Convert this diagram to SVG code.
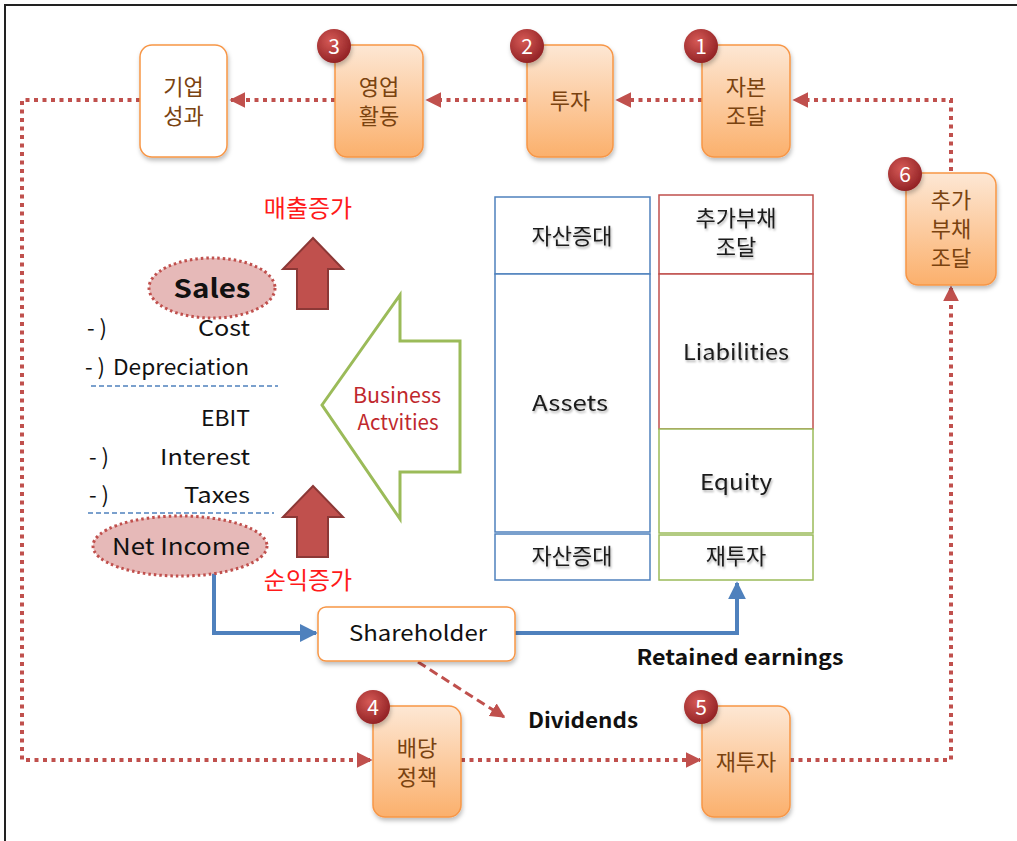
<svg xmlns="http://www.w3.org/2000/svg" width="1017" height="841" viewBox="0 0 1017 841">
  <defs>
    <linearGradient id="boxFill" x1="0" y1="0" x2="0" y2="1">
      <stop offset="0" stop-color="#fde7d4"/>
      <stop offset="1" stop-color="#fbb06c"/>
    </linearGradient>
    <radialGradient id="badgeFill" cx="0.4" cy="0.35" r="0.7">
      <stop offset="0" stop-color="#d65a56"/>
      <stop offset="1" stop-color="#8e1f22"/>
    </radialGradient>
    <filter id="shadow" x="-20%" y="-20%" width="140%" height="140%">
      <feDropShadow dx="1" dy="3" stdDeviation="2" flood-color="#000" flood-opacity="0.25"/>
    </filter>
    <filter id="textShadow" x="-10%" y="-20%" width="120%" height="150%">
      <feDropShadow dx="1" dy="2" stdDeviation="1.2" flood-color="#000" flood-opacity="0.3"/>
    </filter>
    <marker id="dotHead" viewBox="0 0 10 10" refX="9" refY="5" markerWidth="4" markerHeight="4" orient="auto" markerUnits="strokeWidth">
      <path d="M0,0 L10,5 L0,10 Z" fill="#c0504d"/>
    </marker>
    <marker id="blueHead" viewBox="0 0 10 10" refX="9" refY="5" markerWidth="4.5" markerHeight="4.5" orient="auto" markerUnits="strokeWidth">
      <path d="M0,0 L10,5 L0,10 Z" fill="#4f81bd"/>
    </marker>
    <marker id="dashHead" viewBox="0 0 10 10" refX="9" refY="5" markerWidth="5" markerHeight="5" orient="auto" markerUnits="strokeWidth">
      <path d="M0,0 L10,5 L0,10 Z" fill="#c0504d"/>
    </marker>
  </defs>
  <style>
    text { font-family: "Noto Sans CJK KR", "Noto Sans", sans-serif; }
    .step { fill: url(#boxFill); stroke: #f79646; stroke-width: 1.5; filter: url(#shadow); }
    .plain { fill: #ffffff; stroke: #f79646; stroke-width: 1.5; filter: url(#shadow); }
    .stepText { font-size: 22px; fill: #7a4310; text-anchor: middle; }
    .badge { fill: url(#badgeFill); filter: url(#shadow); }
    .badgeText { font-size: 21px; fill: #ffffff; text-anchor: middle; }
    .flow { fill: none; stroke: #c0504d; stroke-width: 4; stroke-dasharray: 4 4.5; }
    .bsText { font-size: 22px; fill: #1a1a1a; text-anchor: middle; filter: url(#textShadow); }
    .isText { font-size: 22px; fill: #111; }
    .red { font-size: 24px; fill: #ff1a1a; text-anchor: middle; }
    .upArrow { fill: #c0504d; stroke: #8c3836; stroke-width: 2; }
    .ellipse { fill: #e6b9b8; stroke: #c0504d; stroke-width: 3; stroke-dasharray: 2.5 3; }
    .rule { stroke: #4f81bd; stroke-width: 1.3; stroke-dasharray: 5 3; }
    .label { font-size: 21px; font-weight: bold; fill: #111; }
  </style>

  <!-- frame -->
  <path d="M5,841 L5,5 L1017,5" fill="none" stroke="#222" stroke-width="2"/>

  <!-- connectors -->
  <g id="connectors">
    <path class="flow" d="M951,171 L951,100 L794,100" marker-end="url(#dotHead)"/>
    <path class="flow" d="M702,100 L617,100" marker-end="url(#dotHead)"/>
    <path class="flow" d="M527,100 L427,100" marker-end="url(#dotHead)"/>
    <path class="flow" d="M335,100 L231,100" marker-end="url(#dotHead)"/>
    <path class="flow" d="M140,100 L22,100 L22,760 L371,760" marker-end="url(#dotHead)"/>
    <path class="flow" d="M461,760 L700,760" marker-end="url(#dotHead)"/>
    <path class="flow" d="M790,760 L951,760 L951,287" marker-end="url(#dotHead)"/>
    <path d="M214,565 L214,633 L316,633" fill="none" stroke="#4f81bd" stroke-width="4" marker-end="url(#blueHead)"/>
    <path d="M515,633 L737,633 L737,583" fill="none" stroke="#4f81bd" stroke-width="4" marker-end="url(#blueHead)"/>
    <path d="M418,662 L504,717" fill="none" stroke="#c0504d" stroke-width="3" stroke-dasharray="9 5" marker-end="url(#dashHead)"/>
  </g>

  <!-- step boxes -->
  <g id="node-performance">
    <rect class="plain" x="140" y="45" width="87" height="112" rx="12"/>
    <text class="stepText" x="183.5" y="95">기업</text>
    <text class="stepText" x="183.5" y="124">성과</text>
  </g>
  <g id="node-operations">
    <rect class="step" x="335" y="45" width="88" height="112" rx="12"/>
    <text class="stepText" x="379" y="95">영업</text>
    <text class="stepText" x="379" y="124">활동</text>
    <circle class="badge" cx="334" cy="46" r="17"/>
    <text class="badgeText" x="334" y="54">3</text>
  </g>
  <g id="node-investment">
    <rect class="step" x="527" y="45" width="86" height="112" rx="12"/>
    <text class="stepText" x="570" y="109">투자</text>
    <circle class="badge" cx="527" cy="46" r="17"/>
    <text class="badgeText" x="527" y="54">2</text>
  </g>
  <g id="node-financing">
    <rect class="step" x="702" y="45" width="88" height="112" rx="12"/>
    <text class="stepText" x="746" y="95">자본</text>
    <text class="stepText" x="746" y="124">조달</text>
    <circle class="badge" cx="701" cy="46" r="17"/>
    <text class="badgeText" x="701" y="54">1</text>
  </g>
  <g id="node-debt">
    <rect class="step" x="906" y="173" width="90" height="112" rx="12"/>
    <text class="stepText" x="951" y="208">추가</text>
    <text class="stepText" x="951" y="237">부채</text>
    <text class="stepText" x="951" y="266">조달</text>
    <circle class="badge" cx="905" cy="174" r="17"/>
    <text class="badgeText" x="905" y="182">6</text>
  </g>
  <g id="node-dividend-policy">
    <rect class="step" x="373" y="706" width="88" height="111" rx="12"/>
    <text class="stepText" x="417" y="756">배당</text>
    <text class="stepText" x="417" y="785">정책</text>
    <circle class="badge" cx="373" cy="707" r="17"/>
    <text class="badgeText" x="373" y="715">4</text>
  </g>
  <g id="node-reinvest">
    <rect class="step" x="702" y="706" width="88" height="111" rx="12"/>
    <text class="stepText" x="746" y="770">재투자</text>
    <circle class="badge" cx="701" cy="707" r="17"/>
    <text class="badgeText" x="701" y="715">5</text>
  </g>

  <!-- income statement -->
  <g id="node-sales">
    <ellipse class="ellipse" cx="212" cy="288" rx="63" ry="30"/>
    <text x="212" y="298" font-size="26" font-weight="bold" fill="#111" text-anchor="middle" textLength="77" lengthAdjust="spacingAndGlyphs">Sales</text>
  </g>
  <g id="income-lines">
    <text class="isText" x="87" y="336">- )</text>
    <text class="isText" x="250" y="336" text-anchor="end" textLength="52" lengthAdjust="spacingAndGlyphs">Cost</text>
    <text class="isText" x="85" y="375">- )</text>
    <text class="isText" x="249" y="375" text-anchor="end" textLength="136" lengthAdjust="spacingAndGlyphs">Depreciation</text>
    <line class="rule" x1="91" y1="386" x2="278" y2="386"/>
    <text class="isText" x="250" y="426" text-anchor="end" textLength="49" lengthAdjust="spacingAndGlyphs">EBIT</text>
    <text class="isText" x="89" y="465">- )</text>
    <text class="isText" x="250" y="465" text-anchor="end" textLength="90" lengthAdjust="spacingAndGlyphs">Interest</text>
    <text class="isText" x="89" y="503">- )</text>
    <text class="isText" x="250" y="503" text-anchor="end" textLength="66" lengthAdjust="spacingAndGlyphs">Taxes</text>
    <line class="rule" x1="88" y1="513" x2="274" y2="513"/>
  </g>
  <g id="node-net-income">
    <ellipse class="ellipse" cx="180" cy="546" rx="87" ry="30"/>
    <text x="181" y="555" font-size="23" fill="#111" text-anchor="middle" textLength="138" lengthAdjust="spacingAndGlyphs">Net Income</text>
  </g>

  <!-- growth arrows -->
  <g id="node-sales-up">
    <text class="red" x="308" y="217">매출증가</text>
    <path class="upArrow" d="M313,238 L343,269 L328,269 L328,309 L297,309 L297,269 L283,269 Z"/>
  </g>
  <g id="node-income-up">
    <path class="upArrow" d="M313,486 L343,517 L328,517 L328,557 L297,557 L297,517 L283,517 Z"/>
    <text class="red" x="308" y="589">순익증가</text>
  </g>

  <!-- business activities arrow -->
  <g id="node-business">
    <path d="M322,405 L400,295 L400,341 L460,341 L460,472 L400,472 L400,519 Z" fill="#ffffff" stroke="#9bbb59" stroke-width="3"/>
    <text x="397" y="403" font-size="21" fill="#c0282d" text-anchor="middle" textLength="88" lengthAdjust="spacingAndGlyphs">Business</text>
    <text x="398" y="430" font-size="21" fill="#c0282d" text-anchor="middle" textLength="81" lengthAdjust="spacingAndGlyphs">Actvities</text>
  </g>

  <!-- balance sheet -->
  <g id="node-assets">
    <rect x="495" y="197" width="155" height="77" fill="#fff" stroke="#4f81bd" stroke-width="1.5"/>
    <rect x="495" y="274" width="155" height="258" fill="#fff" stroke="#4f81bd" stroke-width="1.5"/>
    <rect x="495" y="534" width="155" height="46" fill="#fff" stroke="#4f81bd" stroke-width="1.5"/>
    <text class="bsText" x="572" y="244">자산증대</text>
    <text class="bsText" x="570" y="411" textLength="76" lengthAdjust="spacingAndGlyphs">Assets</text>
    <text class="bsText" x="572" y="564">자산증대</text>
  </g>
  <g id="node-liabilities">
    <rect x="659" y="195" width="154" height="79" fill="#fff" stroke="#c0504d" stroke-width="1.5"/>
    <rect x="659" y="274" width="154" height="155" fill="#fff" stroke="#c0504d" stroke-width="1.5"/>
    <text class="bsText" x="736" y="226">추가부채</text>
    <text class="bsText" x="736" y="255">조달</text>
    <text class="bsText" x="736" y="360" textLength="106" lengthAdjust="spacingAndGlyphs">Liabilities</text>
  </g>
  <g id="node-equity">
    <rect x="659" y="429" width="154" height="104" fill="#fff" stroke="#9bbb59" stroke-width="1.5"/>
    <rect x="659" y="535" width="154" height="45" fill="#fff" stroke="#9bbb59" stroke-width="1.5"/>
    <text class="bsText" x="736" y="490" textLength="72" lengthAdjust="spacingAndGlyphs">Equity</text>
    <text class="bsText" x="736" y="564">재투자</text>
  </g>

  <!-- shareholder and flows -->
  <g id="node-shareholder">
    <rect class="plain" x="318" y="607" width="197" height="54" rx="8"/>
    <text x="418" y="641" font-size="21" fill="#111" text-anchor="middle" textLength="138" lengthAdjust="spacingAndGlyphs">Shareholder</text>
  </g>
  <g id="labels">
    <text class="label" x="740" y="665" text-anchor="middle" textLength="207" lengthAdjust="spacingAndGlyphs">Retained earnings</text>
    <text class="label" x="583" y="728" text-anchor="middle" textLength="110" lengthAdjust="spacingAndGlyphs">Dividends</text>
  </g>
</svg>
